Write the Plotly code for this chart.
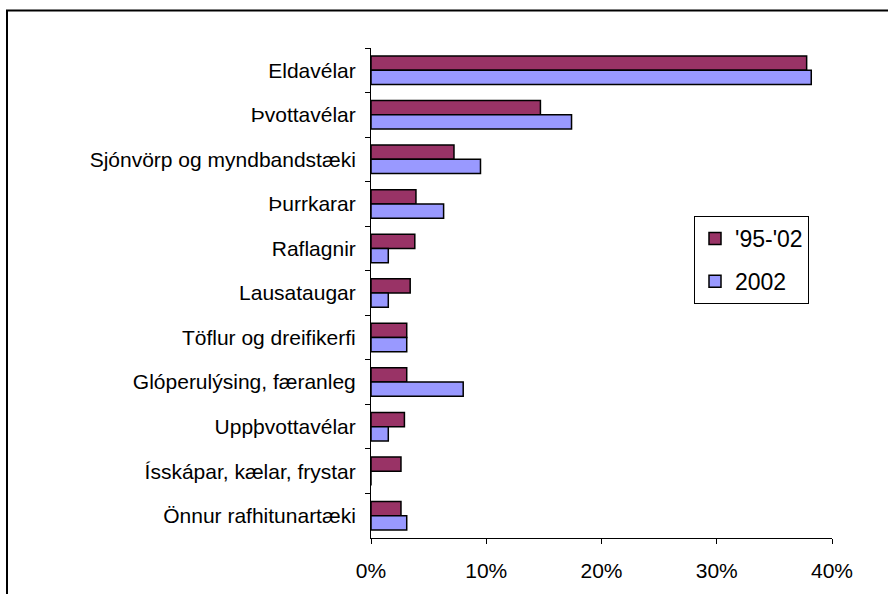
import plotly.graph_objects as go

categories = ["Eldavélar", "Þvottavélar", "Sjónvörp og myndbandstæki", "Þurrkarar",
              "Raflagnir", "Lausataugar", "Töflur og dreifikerfi",
              "Glóperulýsing, færanleg", "Uppþvottavélar",
              "Ísskápar, kælar, frystar", "Önnur rafhitunartæki"]
s_95_02 = [37.8, 14.7, 7.2, 3.9, 3.8, 3.4, 3.1, 3.1, 2.9, 2.6, 2.6]
s_2002 = [38.2, 17.4, 9.5, 6.3, 1.5, 1.5, 3.1, 8.0, 1.5, 0.0, 3.1]
x_ticks = [0, 10, 20, 30, 40]
x_tick_labels = ["0%", "10%", "20%", "30%", "40%"]

font = "Liberation Sans, Arial, sans-serif"

fig = go.Figure()
fig.add_trace(go.Bar(y=categories, x=s_95_02, orientation="h", name="'95-'02",
                     legendgroup="a",
                     marker=dict(color="#993366", line=dict(color="black", width=1.5))))
fig.add_trace(go.Bar(y=categories, x=s_2002, orientation="h", name="2002",
                     legendgroup="b",
                     marker=dict(color="#9999FF", line=dict(color="black", width=1.5))))

W, H = 888, 594
ml, mr, mt, mb = 371, 56, 48, 50
pw, ph = W - ml - mr, H - mt - mb

def px_to_paper_x(px):
    return (px - ml) / pw

def px_to_paper_y(py):
    return (H - mb - py) / ph

fig.update_layout(
    width=W, height=H,
    margin=dict(l=ml, r=mr, t=mt, b=mb, pad=0),
    paper_bgcolor="white", plot_bgcolor="white",
    barmode="group", bargap=0.36, bargroupgap=0,
    font=dict(family=font, size=20, color="black"),
    showlegend=True,
    legend=dict(x=px_to_paper_x(694), y=px_to_paper_y(218), xanchor="left", yanchor="top",
                bordercolor="black", borderwidth=1, bgcolor="white",
                font=dict(size=23, family=font), tracegroupgap=10,
                traceorder="grouped", itemwidth=30),
    xaxis=dict(range=[0, 40], tickvals=x_ticks, ticktext=x_tick_labels,
               showgrid=False, zeroline=False, showline=True, linecolor="black",
               linewidth=1, ticks="outside", ticklen=5, tickcolor="black",
               tickfont=dict(size=21), ticklabelstandoff=9, fixedrange=True),
    yaxis=dict(autorange="reversed", showgrid=False, zeroline=False, showline=True,
               linecolor="black", linewidth=1, ticks="outside", ticklen=5,
               tickcolor="black", tickson="boundaries", tickfont=dict(size=21),
               ticklabelstandoff=10, fixedrange=True),
    shapes=[dict(type="rect", xref="paper", yref="paper",
                 x0=px_to_paper_x(7), y0=-1, x1=3, y1=px_to_paper_y(10),
                 line=dict(color="black", width=2), fillcolor="rgba(0,0,0,0)")],
)

fig.write_html("out.html", config={"displayModeBar": False},
               post_script="document.body.style.margin='0px';")
